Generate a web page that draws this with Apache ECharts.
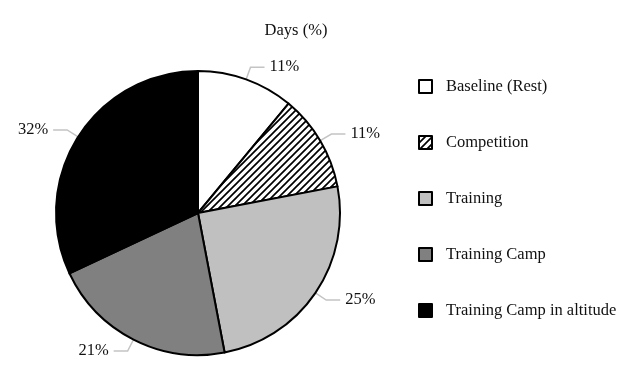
<!DOCTYPE html>
<html>
<head>
<meta charset="utf-8">
<script src="https://cdn.jsdelivr.net/npm/echarts@6/dist/echarts.min.js"></script>
<style>
  html, body { margin: 0; padding: 0; background: #fff; }
  #chart { width: 619px; height: 365px; }
</style>
</head>
<body>
<div id="chart"></div>
<script>
// Share of days spent in each activity type
const categories = ['Baseline (Rest)', 'Competition', 'Training', 'Training Camp', 'Training Camp in altitude'];
const shares = [11, 11, 25, 21, 32];
const fills = ['#ffffff', 'hatch', '#c0c0c0', '#808080', '#000000'];

// Diagonal stripe tile for the hatched slice
function hatchPattern() {
  const s = 7;
  const c = document.createElement('canvas');
  c.width = s; c.height = s;
  const g = c.getContext('2d');
  g.fillStyle = '#fff';
  g.fillRect(0, 0, s, s);
  g.strokeStyle = '#000';
  g.lineWidth = 1.7;
  g.beginPath();
  g.moveTo(0, s); g.lineTo(s, 0);
  g.moveTo(-1, 1); g.lineTo(1, -1);
  g.moveTo(s - 1, s + 1); g.lineTo(s + 1, s - 1);
  g.stroke();
  return { image: c, repeat: 'repeat' };
}

const serif = '"Liberation Serif", "Times New Roman", serif';
const ink = '#111';

const chart = echarts.init(document.getElementById('chart'), null, { renderer: 'canvas' });
chart.setOption({
  animation: false,
  title: {
    text: 'Days (%)',
    left: 291,
    top: 17,
    textAlign: 'center',
    textStyle: { fontFamily: serif, fontSize: 16.5, fontWeight: 'normal', color: ink }
  },
  legend: {
    orient: 'vertical',
    left: 413,
    top: 73,
    itemWidth: 13,
    itemHeight: 13,
    itemGap: 39,
    icon: 'rect',
    data: categories,
    textStyle: { fontFamily: serif, fontSize: 16.5, color: ink, padding: [0, 0, 0, 9] }
  },
  series: [{
    type: 'pie',
    center: [198, 213],
    radius: 142,
    startAngle: 90,
    clockwise: true,
    avoidLabelOverlap: false,
    itemStyle: { borderColor: '#000', borderWidth: 2 },
    label: {
      show: true,
      formatter: '{c}%',
      fontFamily: serif,
      fontSize: 16.5,
      color: ink
    },
    labelLine: {
      show: true,
      length: 13,
      length2: 14,
      lineStyle: { color: '#c4c4c4', width: 1.5 }
    },
    emphasis: { disabled: true },
    data: categories.map((name, i) => ({
      name,
      value: shares[i],
      itemStyle: { color: fills[i] === 'hatch' ? hatchPattern() : fills[i] }
    }))
  }]
});
</script>
</body>
</html>
